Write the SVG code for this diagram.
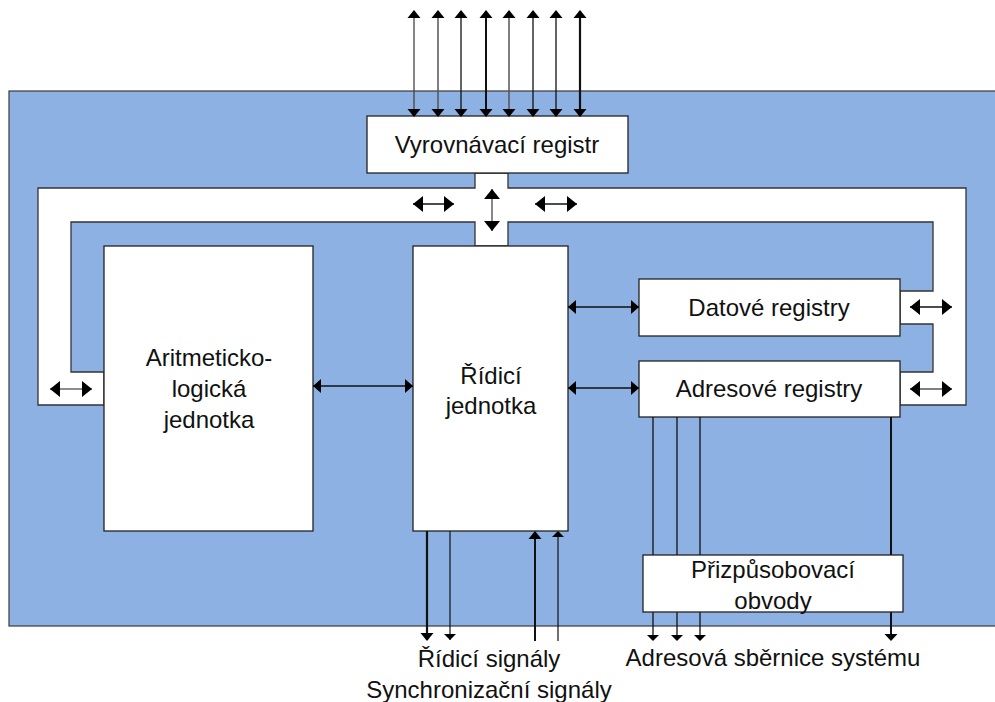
<svg xmlns="http://www.w3.org/2000/svg" width="995" height="702" viewBox="0 0 995 702">
  <style>
    .box { fill: #ffffff; stroke: #222222; stroke-width: 1.3; }
    .bus { fill: #ffffff; stroke: #333333; stroke-width: 1.3; }
    .lbl { font-family: "Liberation Sans", Arial, sans-serif; font-size: 24px; fill: #111111; text-anchor: middle; }
    .w { stroke: #111111; fill: none; }
  </style>
  <defs>
    <marker id="ah" viewBox="-10 -8 10 16" refX="0" refY="0" markerWidth="10" markerHeight="16" markerUnits="userSpaceOnUse" orient="auto-start-reverse">
      <path d="M0,0 L-10,-8 L-10,8 Z" fill="#000"/>
    </marker>
    <marker id="ahf" viewBox="-8 -7 8 14" refX="0" refY="0" markerWidth="8" markerHeight="14" markerUnits="userSpaceOnUse" orient="auto-start-reverse">
      <path d="M0,0 L-8,-7 L-8,7 Z" fill="#000"/>
    </marker>
  </defs>

  <!-- processor body -->
  <rect id="cpu" x="9" y="91" width="990" height="535" fill="#8db1e2" stroke="#3a3a3a" stroke-width="1.2"/>

  <!-- internal bus -->
  <g id="bus">
    <path class="bus" d="M38,188 L475,188 L475,173 L508,173 L508,188 L966,188 L966,405 L900,405 L900,372 L933,372 L933,324 L900,324 L900,291 L933,291 L933,222 L508,222 L508,246 L475,246 L475,222 L71,222 L71,372 L104,372 L104,405 L38,405 Z"/>
  </g>

  <g id="vyrovnavaci-registr">
    <rect class="box" x="367" y="116" width="261" height="57"/>
    <text class="lbl" x="497" y="153">Vyrovnávací registr</text>
  </g>

  <g id="alu">
    <rect class="box" x="104" y="246" width="209" height="285"/>
    <text class="lbl" x="209" y="366">Aritmeticko-</text>
    <text class="lbl" x="209" y="397">logická</text>
    <text class="lbl" x="209" y="428">jednotka</text>
  </g>

  <g id="ridici-jednotka">
    <rect class="box" x="413" y="246" width="155" height="285"/>
    <text class="lbl" x="491" y="384">Řídicí</text>
    <text class="lbl" x="491" y="414">jednotka</text>
  </g>

  <g id="datove-registry">
    <rect class="box" x="639" y="279" width="261" height="57"/>
    <text class="lbl" x="769" y="316">Datové registry</text>
  </g>

  <g id="adresove-registry">
    <rect class="box" x="639" y="361" width="261" height="56"/>
    <text class="lbl" x="769" y="397">Adresové registry</text>
  </g>

  <g id="connectors">
    <!-- external data lines -->
    <g class="w">
      <path d="M414,11 V116" stroke-width="1.3" stroke="#444"/>
      <path d="M438,11 V116" stroke-width="1.5" stroke="#555"/>
      <path d="M461,11 V116" stroke-width="1.3"/>
      <path d="M486,11 V116" stroke-width="2"/>
      <path d="M509,11 V116" stroke-width="1.5" stroke="#555"/>
      <path d="M533,11 V116" stroke-width="1.3"/>
      <path d="M556,11 V116" stroke-width="1.3"/>
      <path d="M580,11 V116" stroke-width="2.2"/>
    </g>
    <g fill="#000">
      <path d="M414,10 l-6.5,8 h13 Z M414,117 l-6.5,-8 h13 Z"/>
      <path d="M438,10 l-6.5,8 h13 Z M438,117 l-6.5,-8 h13 Z"/>
      <path d="M461,10 l-6.5,8 h13 Z M461,117 l-6.5,-8 h13 Z"/>
      <path d="M486,10 l-6.5,8 h13 Z M486,117 l-6.5,-8 h13 Z"/>
      <path d="M509,10 l-6.5,8 h13 Z M509,117 l-6.5,-8 h13 Z"/>
      <path d="M533,10 l-6.5,8 h13 Z M533,117 l-6.5,-8 h13 Z"/>
      <path d="M556,10 l-6.5,8 h13 Z M556,117 l-6.5,-8 h13 Z"/>
      <path d="M580,10 l-6.5,8 h13 Z M580,117 l-6.5,-8 h13 Z"/>
    </g>

    <!-- bus transfer arrows -->
    <g class="w" stroke-width="1.4" marker-start="url(#ah)" marker-end="url(#ah)">
      <line x1="413" y1="204" x2="454" y2="204"/>
      <line x1="535" y1="204" x2="577" y2="204"/>
      <line x1="492" y1="189" x2="492" y2="231" stroke="#555"/>
      <line x1="50" y1="389" x2="92" y2="389" stroke="#666"/>
      <line x1="910" y1="307" x2="952" y2="307"/>
      <line x1="910" y1="389" x2="952" y2="389" stroke="#555"/>
    </g>

    <!-- links between units -->
    <g class="w" stroke-width="1.4" marker-start="url(#ahf)" marker-end="url(#ahf)">
      <line x1="313" y1="386" x2="413" y2="386"/>
      <line x1="568" y1="307" x2="639" y2="307"/>
      <line x1="568" y1="388" x2="639" y2="388"/>
    </g>

    <!-- control and synchronisation signals -->
    <g class="w">
      <path d="M427,531 V640" stroke-width="2.2"/>
      <path d="M450,531 V640" stroke-width="1.2"/>
      <path d="M535,532 V641" stroke-width="2"/>
      <path d="M558,532 V641" stroke-width="1.2"/>
    </g>
    <g fill="#000">
      <path d="M427,641 l-6.5,-8 h13 Z"/>
      <path d="M450,640 l-6,-6 h12 Z"/>
      <path d="M535,531 l-6.5,8 h13 Z"/>
      <path d="M558,531 l-6,6 h12 Z"/>
    </g>

    <!-- address lines -->
    <g class="w" stroke-width="1.3">
      <path d="M653,417 V640"/>
      <path d="M677,417 V640"/>
      <path d="M700,417 V640"/>
      <path d="M891,417 V640" stroke-width="2"/>
    </g>
    <g fill="#000">
      <path d="M653,641 l-6,-6 h12 Z"/>
      <path d="M677,641 l-6,-6 h12 Z"/>
      <path d="M700,641 l-6,-6 h12 Z"/>
      <path d="M891,641 l-6.5,-7 h13 Z"/>
    </g>
  </g>

  <!-- adapter sits on top of the address lines -->
  <g id="prizpusobovaci-obvody">
    <rect class="box" x="643" y="555" width="260" height="57"/>
    <text class="lbl" x="773" y="578">Přizpůsobovací</text>
    <text class="lbl" x="773" y="609">obvody</text>
  </g>

  <g id="outputs">
    <text class="lbl" x="489" y="667">Řídicí signály</text>
    <text class="lbl" x="489" y="698">Synchronizační signály</text>
    <text class="lbl" x="773" y="666">Adresová sběrnice systému</text>
  </g>
</svg>
